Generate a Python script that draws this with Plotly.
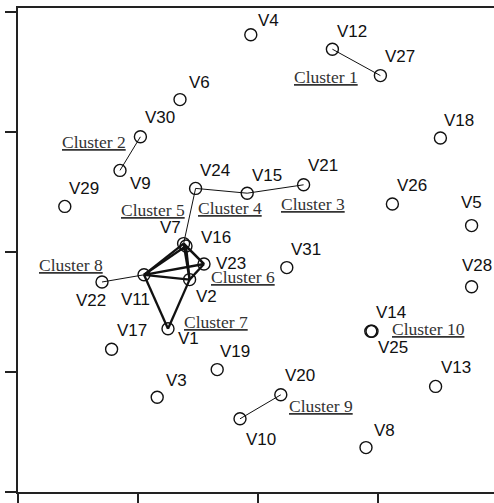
import plotly.graph_objects as go

# ---- data (MDS-like coordinates) ----
names = ["V1", "V2", "V3", "V4", "V5", "V6", "V7", "V8", "V9", "V10",
         "V11", "V12", "V13", "V14", "V15", "V16", "V17", "V18", "V19", "V20",
         "V21", "V22", "V23", "V24", "V25", "V26", "V27", "V28", "V29", "V30", "V31"]
x_vals = [1.25, 1.43, 1.16, 1.94, 3.78, 1.35, 1.38, 2.90, 0.85, 1.85,
          1.05, 2.62, 3.48, 2.94, 1.91, 1.40, 0.78, 3.52, 1.66, 2.19,
          2.38, 0.70, 1.55, 1.48, 2.95, 3.12, 3.02, 3.78, 0.39, 1.02, 2.24]
y_vals = [1.36, 1.77, 0.79, 3.81, 2.22, 3.27, 2.07, 0.37, 2.68, 0.61,
          1.81, 3.69, 0.88, 1.34, 2.49, 2.05, 1.19, 2.95, 1.02, 0.81,
          2.56, 1.75, 1.90, 2.53, 1.34, 2.40, 3.47, 1.71, 2.38, 2.96, 1.87]

thin_edges = [("V12", "V27"), ("V30", "V9"), ("V24", "V15"), ("V15", "V21"),
              ("V24", "V7"), ("V22", "V11"), ("V10", "V20")]
core_members = ["V11", "V7", "V16", "V23", "V2"]
thick_edges = [(a, b) for i, a in enumerate(core_members) for b in core_members[i + 1:]]
thick_edges += [("V1", "V11"), ("V1", "V2")]

cluster_labels = ["Cluster 1", "Cluster 2", "Cluster 3", "Cluster 4", "Cluster 5",
                  "Cluster 6", "Cluster 7", "Cluster 8", "Cluster 9", "Cluster 10"]
cluster_anchor = ["V27", "V30", "V21", "V15", "V24", "V2", "V1", "V22", "V20", "V14"]

# ---- label placement (pixel offsets, style only) ----
label_offsets = {
    "V1": (20, 10), "V2": (17, 17), "V3": (19, -17), "V4": (18, -14),
    "V5": (0, -23), "V6": (19, -17), "V7": (-13, -16), "V8": (18, -17),
    "V9": (20, 13), "V10": (21, 21), "V11": (-9, 25), "V12": (20, -18),
    "V13": (20, -19), "V14": (20, -19), "V15": (20, -18), "V16": (30, -9),
    "V17": (20, -19), "V18": (19, -18), "V19": (18, -18), "V20": (19, -19),
    "V21": (19, -19), "V22": (-11, 18), "V23": (27, -1), "V24": (19, -18),
    "V25": (21, 16), "V26": (20, -19), "V27": (20, -19), "V28": (5, -21),
    "V29": (19, -18), "V30": (20, -19), "V31": (19, -18),
}
cluster_offsets = [(-54, 1), (-46, 5), (9, 19), (-17, 15), (-43, 22),
                   (53, -3), (48, -7), (-31, -17), (40, 11), (58, -2)]

pos = {n: (x, y) for n, x, y in zip(names, x_vals, y_vals)}


def edge_xy(edges):
    xs, ys = [], []
    for a, b in edges:
        xs += [pos[a][0], pos[b][0], None]
        ys += [pos[a][1], pos[b][1], None]
    return xs, ys


fig = go.Figure()
tx, ty = edge_xy(thin_edges)
fig.add_trace(go.Scatter(x=tx, y=ty, mode="lines", line=dict(color="#111", width=1),
                         hoverinfo="skip", showlegend=False))
kx, ky = edge_xy(thick_edges)
fig.add_trace(go.Scatter(x=kx, y=ky, mode="lines", line=dict(color="#111", width=2.3),
                         hoverinfo="skip", showlegend=False))
fig.add_trace(go.Scatter(x=x_vals, y=y_vals, mode="markers", text=names,
                         marker=dict(symbol="circle-open", size=12, color="#111",
                                     line=dict(width=1.4, color="#111")),
                         showlegend=False))

annotations = []
for n in names:
    dx, dy = label_offsets[n]
    annotations.append(dict(x=pos[n][0], y=pos[n][1], text=n, showarrow=False,
                            xshift=dx, yshift=-dy, xanchor="center", yanchor="middle",
                            font=dict(family="Liberation Sans, Arial", size=17, color="#111")))
for lab, anc, (dx, dy) in zip(cluster_labels, cluster_anchor, cluster_offsets):
    annotations.append(dict(x=pos[anc][0], y=pos[anc][1], text="<u>" + lab + "</u>",
                            showarrow=False, xshift=dx, yshift=-dy,
                            xanchor="center", yanchor="middle",
                            font=dict(family="Liberation Serif, Times New Roman", size=17.5,
                                      color="#333")))

fig.update_layout(
    width=494, height=503,
    margin=dict(l=18, r=0, t=8, b=11),
    paper_bgcolor="white", plot_bgcolor="white",
    annotations=annotations,
    hovermode=False,
    xaxis=dict(range=[0, 476 / 120], tickvals=[0, 1, 2, 3], ticks="outside", ticklen=11,
               tickwidth=2, tickcolor="#222", showticklabels=False, showgrid=False,
               zeroline=False, showline=True, linecolor="#222", linewidth=2, mirror=True),
    yaxis=dict(range=[0, 484 / 120], tickvals=[0, 1, 2, 3, 4], ticks="outside", ticklen=11,
               tickwidth=2, tickcolor="#222", showticklabels=False, showgrid=False,
               zeroline=False, showline=True, linecolor="#222", linewidth=2),
)

fig.write_html("out.html", config={"displayModeBar": False},
               post_script="document.body.style.margin='0';document.body.style.overflow='hidden';")
